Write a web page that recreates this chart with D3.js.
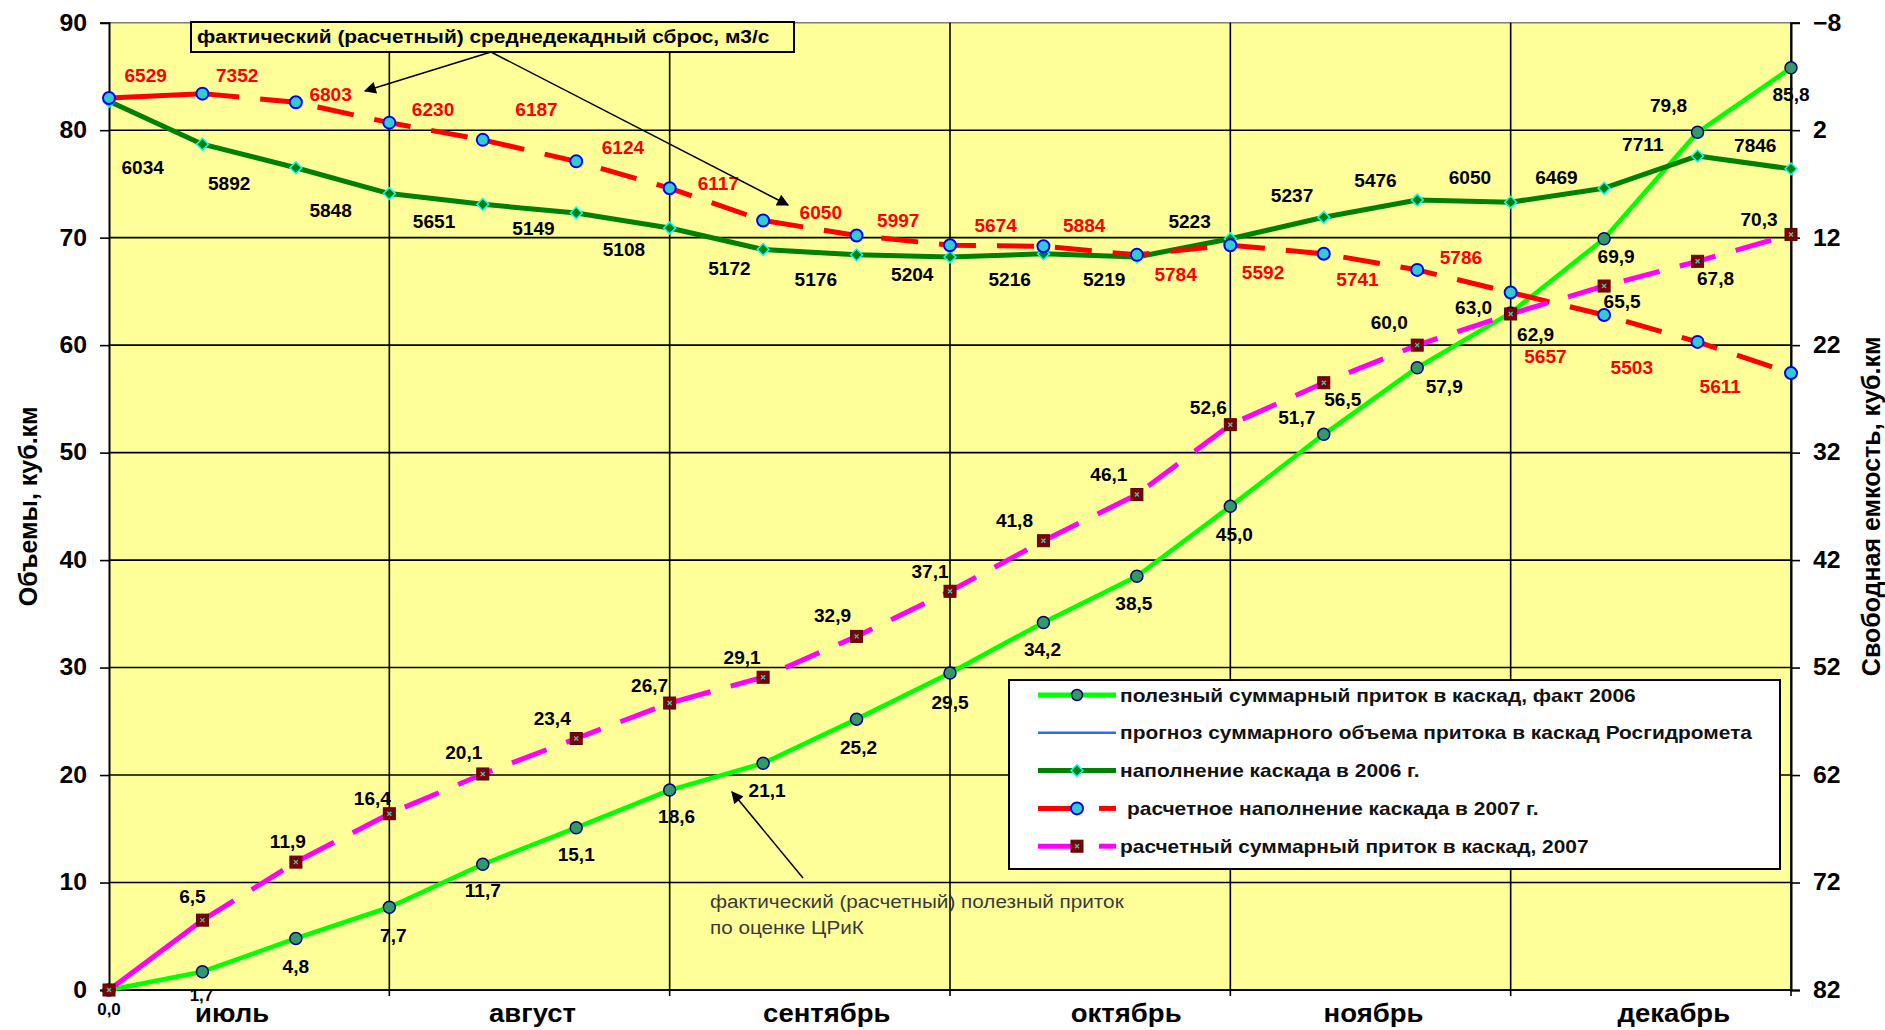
<!DOCTYPE html>
<html lang="ru">
<head>
<meta charset="utf-8">
<title>Наполнение каскада и приток, июль–декабрь</title>
<script src="https://cdn.jsdelivr.net/npm/d3@7/dist/d3.min.js"></script>
<style>
  html, body { margin: 0; padding: 0; background: #ffffff; }
  svg { display: block; font-family: "Liberation Sans", Arial, sans-serif; }
</style>
</head>
<body>
<svg id="chart" width="1885" height="1030"></svg>
<script>
// ---- data -------------------------------------------------------------
// decade end dates (start point + 3 decades per month)
const decades = ['01.07','10.07','20.07','31.07','10.08','20.08','31.08',
                 '10.09','20.09','30.09','10.10','20.10','31.10',
                 '10.11','20.11','30.11','10.12','20.12','31.12'];
const months = ['июль','август','сентябрь','октябрь','ноябрь','декабрь'];

// cumulative useful inflow into the cascade, fact 2006, km3
const inflowFact2006 = [0.0,1.7,4.8,7.7,11.7,15.1,18.6,21.1,25.2,29.5,34.2,38.5,45.0,51.7,57.9,63.0,69.9,79.8,85.8];
// estimated cumulative inflow into the cascade, 2007, km3
const inflowCalc2007 = [0.0,6.5,11.9,16.4,20.1,23.4,26.7,29.1,32.9,37.1,41.8,46.1,52.6,56.5,60.0,62.9,65.5,67.8,70.3];
// cascade filling 2006, km3
const filling2006 = [82.7,78.7,76.5,74.1,73.1,72.3,70.9,68.9,68.4,68.2,68.5,68.2,69.9,71.9,73.5,73.3,74.6,77.6,76.4];
// estimated cascade filling 2007, km3
const filling2007 = [83.0,83.4,82.6,80.7,79.1,77.1,74.6,71.6,70.2,69.3,69.2,68.4,69.3,68.5,67.0,64.9,62.8,60.3,57.4];
// mean decade discharge, m3/s (one value per decade interval)
const discharge2006 = [6034,5892,5848,5651,5149,5108,5172,5176,5204,5216,5219,5223,5237,5476,6050,6469,7711,7846];
const discharge2007 = [6529,7352,6803,6230,6187,6124,6117,6050,5997,5674,5884,5784,5592,5741,5786,5657,5503,5611];

const leftTicks = [0,10,20,30,40,50,60,70,80,90];
const rightTicks = [-8,2,12,22,32,42,52,62,72,82];

const legendItems = [
  'полезный суммарный приток в каскад, факт 2006',
  'прогноз суммарного объема притока в каскад Росгидромета',
  'наполнение каскада в 2006 г.',
  'расчетное наполнение каскада в 2007 г.',
  'расчетный суммарный приток в каскад, 2007'
];

// ---- layout -----------------------------------------------------------
const W = 1885, H = 1030;
const plot = { left: 109, right: 1791, top: 22.7, bottom: 990 };
const FONT = '"Liberation Sans", Arial, sans-serif';

// label nudges in px relative to the point (or interval middle)
const inflowFactShift = [[0,19],[-1,24],[0,29],[4,29],[0,27],[0,27],[7,27],[4,28],[2,29],[0,30],[-1,28],[-3,28],[4,29],[-27,-16],[27,19],[-37,-5],[12,18],[-29,-26],[0,27]];
const inflowCalcShift = [null,[-10,-23],[-8,-20],[-17,-15],[-19,-21],[-24,-20],[-20,-17],[-21,-19],[-24,-20],[-20,-19],[-29,-20],[-28,-20],[-22,-17],[19,17],[-28,-22],[25,21],[18,16],[18,18],[-32,-14]];
const discharge2006Shift = [[-13,45],[-20,28],[-12,30],[-2,23],[4,20],[1,30],[13,30],[6,28],[9,19],[13,25],[14,25],[6,-26],[15,-32],[5,-28],[6,-23],[-1,-17],[-8,-27],[11,-16]];
const discharge2007Shift = [[-10,-20],[-12,-22],[-12,-17],[-3,-21],[7,-41],[0,-27],[2,-20],[11,-15],[-5,-19],[-1,-20],[-6,-25],[-8,25],[-14,24],[-13,18],[-3,-23],[-12,53],[-19,40],[-24,30]];
const monthLabelShift = [-17, 3, 17, 36, 3, 23];

const svg = d3.select('#chart');

const x = d3.scalePoint().domain(decades).range([plot.left, plot.right]);
const y = d3.scaleLinear().domain([0, 90]).range([plot.bottom, plot.top]);
// free capacity axis: 82 km3 minus volume
const yR = d3.scaleLinear().domain([82, -8]).range([plot.bottom, plot.top]);

const fmt1 = v => d3.format('.1f')(v).replace('.', ',');

// the type in this chart is set slightly wide: stretch glyphs horizontally
function widen(sel, k) {
  sel.each(function () {
    const w = this.getComputedTextLength();
    this.setAttribute('textLength', (w * k).toFixed(1));
    this.setAttribute('lengthAdjust', 'spacingAndGlyphs');
  });
  return sel;
}

// ---- plot background and grid -----------------------------------------
svg.append('rect')
  .attr('x', plot.left).attr('y', plot.top)
  .attr('width', plot.right - plot.left).attr('height', plot.bottom - plot.top)
  .attr('fill', '#FFFF99');

const grid = svg.append('g');
grid.selectAll('line.h').data(leftTicks.filter(t => t > 0 && t < 90)).join('line')
  .attr('x1', plot.left).attr('x2', plot.right)
  .attr('y1', d => y(d)).attr('y2', d => y(d))
  .attr('stroke', '#000').attr('stroke-width', 1.6);
// top border
grid.append('line')
  .attr('x1', plot.left).attr('x2', plot.right)
  .attr('y1', plot.top).attr('y2', plot.top)
  .attr('stroke', '#7f7f7f').attr('stroke-width', 1.6);
// month boundaries
const monthEnds = decades.filter((d, i) => i > 0 && i % 3 === 0);
grid.selectAll('line.v').data(monthEnds).join('line')
  .attr('x1', d => x(d)).attr('x2', d => x(d))
  .attr('y1', plot.top).attr('y2', plot.bottom + 6)
  .attr('stroke', '#000').attr('stroke-width', 1.6);
// bottom axis line
grid.append('line')
  .attr('x1', plot.left).attr('x2', plot.right)
  .attr('y1', plot.bottom).attr('y2', plot.bottom)
  .attr('stroke', '#000').attr('stroke-width', 1.8);

// ---- axes --------------------------------------------------------------
const axL = svg.append('g').attr('transform', `translate(${plot.left},0)`)
  .call(d3.axisLeft(y).tickValues(leftTicks).tickSize(9).tickPadding(13).tickFormat(d3.format('d')));
const axR = svg.append('g').attr('transform', `translate(${plot.right},0)`)
  .call(d3.axisRight(yR).tickValues(rightTicks).tickSize(9).tickPadding(13).tickFormat(d3.format('d')));
[axL, axR].forEach(ax => {
  ax.select('.domain').attr('stroke', '#000').attr('stroke-width', 2);
  ax.selectAll('.tick line').attr('stroke', '#000').attr('stroke-width', 1.6);
  const t = ax.selectAll('.tick text')
    .attr('font-family', FONT).attr('font-size', 23).attr('font-weight', 'bold').attr('fill', '#000');
  widen(t, 1.08);
});

// month labels under each month
widen(svg.append('g').selectAll('text').data(months).join('text')
  .attr('x', (d, i) => (x(decades[i * 3]) + x(decades[i * 3 + 3])) / 2 + monthLabelShift[i])
  .attr('y', 1022)
  .attr('text-anchor', 'middle')
  .attr('font-family', FONT).attr('font-size', 25).attr('font-weight', 'bold')
  .attr('fill', '#000')
  .text(d => d), 1.1);

// axis titles
svg.append('text')
  .attr('transform', `translate(28,${(plot.top + plot.bottom) / 2}) rotate(-90)`)
  .attr('text-anchor', 'middle').attr('dominant-baseline', 'central')
  .attr('font-family', FONT).attr('font-size', 25).attr('font-weight', 'bold')
  .text('Объемы, куб.км');
svg.append('text')
  .attr('transform', `translate(1871,${(plot.top + plot.bottom) / 2}) rotate(-90)`)
  .attr('text-anchor', 'middle').attr('dominant-baseline', 'central')
  .attr('font-family', FONT).attr('font-size', 25).attr('font-weight', 'bold')
  .text('Свободная емкость, куб.км');

// ---- series ------------------------------------------------------------
const line = d3.line().x(d => x(d.k)).y(d => y(d.v));
const pts = arr => arr.map((v, i) => ({ k: decades[i], v, i }));

const DASH = '37,21';
const diamond = d3.symbol(d3.symbolSquare, 70);

// bright green: useful inflow fact 2006
const gInflow = svg.append('g');
gInflow.append('path').datum(pts(inflowFact2006)).attr('d', line)
  .attr('fill', 'none').attr('stroke', '#00FF00').attr('stroke-width', 4.5)
  .attr('stroke-linejoin', 'round');
gInflow.selectAll('circle').data(pts(inflowFact2006)).join('circle')
  .attr('cx', d => x(d.k)).attr('cy', d => y(d.v)).attr('r', 6)
  .attr('fill', '#339966').attr('stroke', '#000080').attr('stroke-width', 1.5);

// dark green: filling 2006
const gFill06 = svg.append('g');
gFill06.append('path').datum(pts(filling2006)).attr('d', line)
  .attr('fill', 'none').attr('stroke', '#008000').attr('stroke-width', 5)
  .attr('stroke-linejoin', 'round');
gFill06.selectAll('path.m').data(pts(filling2006)).join('path')
  .attr('class', 'm')
  .attr('d', diamond)
  .attr('transform', d => `translate(${x(d.k)},${y(d.v)}) rotate(45)`)
  .attr('fill', '#008000').attr('stroke', '#00FFFF').attr('stroke-width', 1.5);

// red dashed: filling 2007 (first segment solid, dashes start at the 2nd point)
const gFill07 = svg.append('g');
const f07 = pts(filling2007);
gFill07.append('path').datum(f07.slice(0, 2)).attr('d', line)
  .attr('fill', 'none').attr('stroke', '#FF0000').attr('stroke-width', 5);
gFill07.append('path').datum(f07.slice(1)).attr('d', line)
  .attr('fill', 'none').attr('stroke', '#FF0000').attr('stroke-width', 5)
  .attr('stroke-dasharray', DASH);
gFill07.selectAll('circle').data(f07).join('circle')
  .attr('cx', d => x(d.k)).attr('cy', d => y(d.v)).attr('r', 6)
  .attr('fill', '#33CCCC').attr('stroke', '#0000FF').attr('stroke-width', 2);

// magenta dashed: estimated inflow 2007
const gCalc = svg.append('g');
const c07 = pts(inflowCalc2007);
gCalc.append('path').datum(c07.slice(0, 2)).attr('d', line)
  .attr('fill', 'none').attr('stroke', '#FF00FF').attr('stroke-width', 5);
gCalc.append('path').datum(c07.slice(1)).attr('d', line)
  .attr('fill', 'none').attr('stroke', '#FF00FF').attr('stroke-width', 5)
  .attr('stroke-dasharray', DASH);
function squareMarker(g, cx, cy) {
  g.append('rect').attr('x', cx - 6).attr('y', cy - 6).attr('width', 12).attr('height', 12)
    .attr('fill', '#800000').attr('stroke', '#5a0000').attr('stroke-width', 1);
  g.append('path').attr('d', `M${cx - 2},${cy - 2}L${cx + 2},${cy + 2}M${cx + 2},${cy - 2}L${cx - 2},${cy + 2}`)
    .attr('stroke', '#33CCCC').attr('stroke-width', 1.3);
}
c07.forEach(d => squareMarker(gCalc, x(d.k), y(d.v)));

// ---- data labels ---------------------------------------------------------
const labels = svg.append('g')
  .attr('font-family', FONT).attr('font-size', 18).attr('font-weight', 'bold')
  .attr('text-anchor', 'middle').attr('dominant-baseline', 'central');

const tInf = labels.selectAll('text.inf').data(pts(inflowFact2006)).join('text')
  .attr('x', d => x(d.k) + inflowFactShift[d.i][0])
  .attr('y', d => y(d.v) + inflowFactShift[d.i][1])
  .attr('font-size', d => d.i <= 1 ? 16 : 18)
  .attr('fill', '#000').text(d => fmt1(d.v));

const tCalc = labels.selectAll('text.calc').data(pts(inflowCalc2007).filter(d => d.i > 0)).join('text')
  .attr('x', d => x(d.k) + inflowCalcShift[d.i][0])
  .attr('y', d => y(d.v) + inflowCalcShift[d.i][1])
  .attr('fill', '#000').text(d => fmt1(d.v));

// decade discharge labels sit at the middle of each decade interval
const mid = (arr, i) => ({
  x: (x(decades[i]) + x(decades[i + 1])) / 2,
  y: y((arr[i] + arr[i + 1]) / 2)
});
const tQ06 = labels.selectAll('text.q06').data(discharge2006).join('text')
  .attr('x', (d, i) => mid(filling2006, i).x + discharge2006Shift[i][0])
  .attr('y', (d, i) => mid(filling2006, i).y + discharge2006Shift[i][1])
  .attr('fill', '#000').text(d => d);
const tQ07 = labels.selectAll('text.q07').data(discharge2007).join('text')
  .attr('x', (d, i) => mid(filling2007, i).x + discharge2007Shift[i][0])
  .attr('y', (d, i) => mid(filling2007, i).y + discharge2007Shift[i][1])
  .attr('fill', '#FF0000').text(d => d);
[tInf, tCalc, tQ06, tQ07].forEach(s => widen(s, 1.06));

// ---- annotations ------------------------------------------------------------
const defs = svg.append('defs');
defs.append('marker').attr('id', 'arrow')
  .attr('viewBox', '0 0 10 10').attr('refX', 9).attr('refY', 5)
  .attr('markerWidth', 14).attr('markerHeight', 12).attr('markerUnits', 'userSpaceOnUse')
  .attr('orient', 'auto')
  .append('path').attr('d', 'M0,0L10,5L0,10Z').attr('fill', '#000');

const note = svg.append('g');
note.append('rect').attr('x', 191).attr('y', 22).attr('width', 603).attr('height', 30)
  .attr('fill', '#FFFF99').attr('stroke', '#000').attr('stroke-width', 2);
widen(note.append('text').attr('x', 197).attr('y', 37).attr('dominant-baseline', 'central')
  .attr('font-family', FONT).attr('font-size', 18).attr('font-weight', 'bold').attr('fill', '#000')
  .text('фактический (расчетный) среднедекадный сброс, м3/с'), 1.16);
note.append('line').attr('x1', 491).attr('y1', 52).attr('x2', 365).attr('y2', 91)
  .attr('stroke', '#000').attr('stroke-width', 1.5).attr('marker-end', 'url(#arrow)');
note.append('line').attr('x1', 491).attr('y1', 52).attr('x2', 788).attr('y2', 205)
  .attr('stroke', '#000').attr('stroke-width', 1.5).attr('marker-end', 'url(#arrow)');

const note2 = svg.append('g')
  .attr('font-family', FONT).attr('font-size', 18).attr('fill', '#3a3a3a');
widen(note2.append('text').attr('x', 710).attr('y', 902).attr('dominant-baseline', 'central')
  .text('фактический (расчетный) полезный приток'), 1.15);
widen(note2.append('text').attr('x', 710).attr('y', 928).attr('dominant-baseline', 'central')
  .text('по оценке ЦРиК'), 1.15);
svg.append('line').attr('x1', 803).attr('y1', 878).attr('x2', 732).attr('y2', 792)
  .attr('stroke', '#000').attr('stroke-width', 1.5).attr('marker-end', 'url(#arrow)');

// ---- legend ---------------------------------------------------------------
const lg = svg.append('g');
lg.append('rect').attr('x', 1009).attr('y', 680).attr('width', 771).attr('height', 189)
  .attr('fill', '#fff').attr('stroke', '#000').attr('stroke-width', 2);
const rowY = i => 695 + i * 37.8;
const lx0 = 1038, lx1 = 1116, lxm = 1077;

// row 0: bright green
lg.append('line').attr('x1', lx0).attr('x2', lx1).attr('y1', rowY(0)).attr('y2', rowY(0))
  .attr('stroke', '#00FF00').attr('stroke-width', 5);
lg.append('circle').attr('cx', lxm).attr('cy', rowY(0)).attr('r', 5.5)
  .attr('fill', '#339966').attr('stroke', '#000080').attr('stroke-width', 1.5);
// row 1: blue forecast
lg.append('line').attr('x1', lx0).attr('x2', lx1).attr('y1', rowY(1)).attr('y2', rowY(1))
  .attr('stroke', '#3366FF').attr('stroke-width', 2.5);
// row 2: dark green
lg.append('line').attr('x1', lx0).attr('x2', lx1).attr('y1', rowY(2)).attr('y2', rowY(2))
  .attr('stroke', '#008000').attr('stroke-width', 5);
lg.append('path').attr('d', diamond)
  .attr('transform', `translate(${lxm},${rowY(2)}) rotate(45)`)
  .attr('fill', '#008000').attr('stroke', '#00FFFF').attr('stroke-width', 1.5);
// row 3: red dashed
lg.append('line').attr('x1', lx0).attr('x2', lxm).attr('y1', rowY(3)).attr('y2', rowY(3))
  .attr('stroke', '#FF0000').attr('stroke-width', 5);
lg.append('line').attr('x1', 1099).attr('x2', lx1).attr('y1', rowY(3)).attr('y2', rowY(3))
  .attr('stroke', '#FF0000').attr('stroke-width', 5);
lg.append('circle').attr('cx', lxm).attr('cy', rowY(3)).attr('r', 6)
  .attr('fill', '#33CCCC').attr('stroke', '#0000FF').attr('stroke-width', 2);
// row 4: magenta dashed
lg.append('line').attr('x1', lx0).attr('x2', lxm).attr('y1', rowY(4)).attr('y2', rowY(4))
  .attr('stroke', '#FF00FF').attr('stroke-width', 5);
lg.append('line').attr('x1', 1099).attr('x2', lx1).attr('y1', rowY(4)).attr('y2', rowY(4))
  .attr('stroke', '#FF00FF').attr('stroke-width', 5);
squareMarker(lg, lxm, rowY(4));

widen(lg.selectAll('text').data(legendItems).join('text')
  .attr('x', (d, i) => i === 3 ? 1127 : 1120)
  .attr('y', (d, i) => rowY(i))
  .attr('dominant-baseline', 'central')
  .attr('font-family', FONT).attr('font-size', 18.5).attr('font-weight', 'bold').attr('fill', '#111')
  .text(d => d), 1.13);
</script>
</body>
</html>
